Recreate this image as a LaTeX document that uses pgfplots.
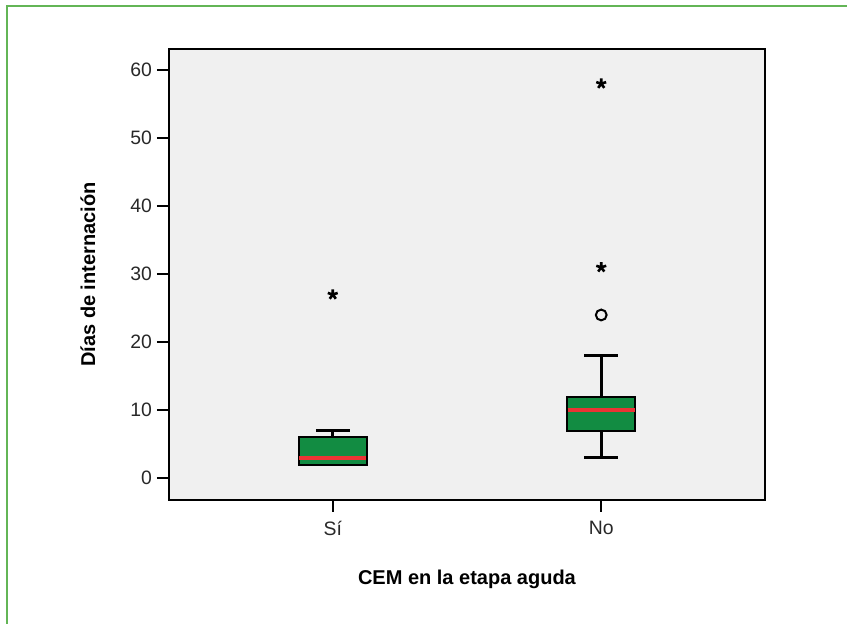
\documentclass[border=0pt]{standalone}
\usepackage{fontspec}
\setmainfont{Liberation Sans}
\usepackage{pgfplots}
\pgfplotsset{compat=1.18}
\definecolor{framegreen}{RGB}{99,181,86}
\definecolor{boxgreen}{RGB}{18,140,66}
\definecolor{medred}{RGB}{236,52,52}
\definecolor{bggray}{RGB}{240,240,240}
\definecolor{ticktext}{RGB}{40,40,40}
\begin{document}
\begin{tikzpicture}
\begin{axis}[
  at={(84.5pt,-250pt)}, anchor=south west,
  scale only axis, width=298pt, height=225.5pt,
  xmin=0.39, xmax=2.61, ymin=-3.2, ymax=63.1,
  xtick={1,2}, xticklabels={Sí,No},
  ytick={0,10,20,30,40,50,60},
  tick pos=left, tick align=outside,
  major tick length=6pt,
  every tick/.style={black, line width=0.9pt},
  axis line style={black, line width=1.1pt},
  axis background/.style={fill=bggray},
  /pgf/number format/assume math mode=true,
  ticklabel style={font=\fontsize{9.7}{11}\selectfont, text=ticktext},
  xticklabel style={yshift=-1pt},
  yticklabel style={xshift=1pt},
  ylabel={\textbf{Días de internación}},
  xlabel={\textbf{CEM en la etapa aguda}},
  label style={font=\fontsize{10}{12}\selectfont},
  ylabel style={at={(axis description cs:-0.136,0.5)}, anchor=center},
  xlabel style={at={(axis description cs:0.5,-0.177)}, anchor=center},
  clip=false,
]
% --- Si: min 2, Q1 2, median 3, Q3 6, max 7
\addplot[draw=black, line width=1.4pt] coordinates {(1,6) (1,7)};
\addplot[draw=black, line width=1.4pt] coordinates {(0.937,7) (1.063,7)};
\addplot[draw=black, fill=boxgreen, line width=1pt] coordinates {(0.873,2) (1.127,2) (1.127,6) (0.873,6)} -- cycle;
\addplot[draw=medred, line width=2pt] coordinates {(0.875,3) (1.125,3)};
% --- No: min 3, Q1 7, median 10, Q3 12, max 18
\addplot[draw=black, line width=1.4pt] coordinates {(2,12) (2,18)};
\addplot[draw=black, line width=1.4pt] coordinates {(1.937,18) (2.063,18)};
\addplot[draw=black, line width=1.4pt] coordinates {(2,3) (2,7)};
\addplot[draw=black, line width=1.4pt] coordinates {(1.937,3) (2.063,3)};
\addplot[draw=black, fill=boxgreen, line width=1pt] coordinates {(1.873,7) (2.127,7) (2.127,12) (1.873,12)} -- cycle;
\addplot[draw=medred, line width=2pt] coordinates {(1.875,10) (2.125,10)};
% --- outliers
\addplot[only marks, mark=star, mark size=2.6pt, black, line width=1.3pt]
  coordinates {(1,27) (2,31) (2,58)};
\addplot[only marks, mark=o, mark size=2.7pt, black, line width=1pt]
  coordinates {(2,24)};
\end{axis}
\draw[framegreen, line width=1pt] (3.6pt,-320pt) -- (3.6pt,-2.8pt) -- (430pt,-2.8pt);
\pgfresetboundingbox
\path[use as bounding box] (0pt,0pt) rectangle (423.5pt,-312pt);
\end{tikzpicture}
\end{document}
